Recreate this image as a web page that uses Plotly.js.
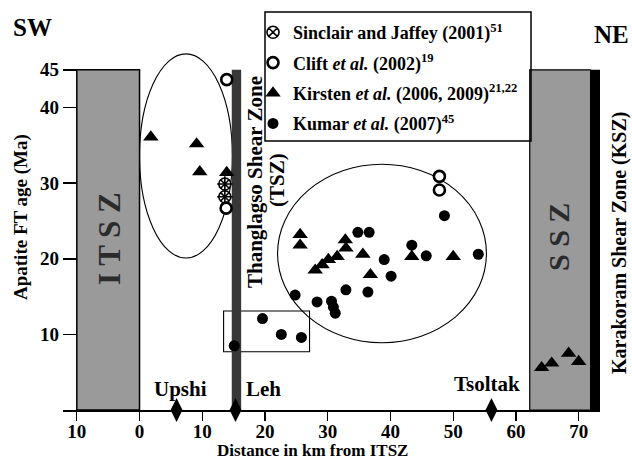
<!DOCTYPE html>
<html>
<head>
<meta charset="utf-8">
<script src="https://cdn.plot.ly/plotly-3.0.1.min.js"></script>
<style>html,body{margin:0;padding:0;background:#fff;}#chart{width:632px;height:461px;}</style>
</head>
<body>
<div id="chart"></div>
<script>
// ---- data ----
const sinclairKm  = [13.6, 13.6];
const sinclairAge = [29.9, 28.2];

const cliftKm  = [13.9, 13.8, 47.8, 47.8];
const cliftAge = [43.7, 26.7, 30.9, 29.1];

const kirstenKm  = [1.8, 9.1, 9.6, 13.9, 25.6, 25.6, 32.8, 32.9, 31.5, 30.1, 29.1, 28.0, 35.6, 36.8, 43.4, 50.0, 64.1, 65.7, 68.4, 70.0];
const kirstenAge = [36.1, 35.2, 31.5, 31.4, 23.2, 21.8, 22.5, 21.4, 20.3, 19.9, 19.2, 18.5, 20.6, 17.9, 20.3, 20.3, 5.6, 6.2, 7.5, 6.4];

const kumarKm  = [34.8, 36.6, 39.0, 40.1, 32.9, 36.4, 24.8, 28.3, 30.6, 30.9, 31.2, 43.4, 45.7, 48.6, 54.0, 19.6, 22.6, 25.8, 15.1];
const kumarAge = [23.5, 23.5, 19.9, 17.7, 15.9, 15.6, 15.2, 14.3, 14.4, 13.6, 12.8, 21.8, 20.4, 25.7, 20.6, 12.1, 10.0, 9.6, 8.5];

const towns   = ['Upshi', 'Leh', 'Tsoltak'];
const townKm  = [5.9, 15.3, 56.1];

const xTickVals = [-10, 0, 10, 20, 30, 40, 50, 60, 70];
const xTickText = ['10', '0', '10', '20', '30', '40', '50', '60', '70'];
const yTickVals = [10, 20, 30, 40, 45];

const seriesNames = [
  'Sinclair and Jaffey (2001)<sup>51</sup>',
  'Clift <i>et al.</i> (2002)<sup>19</sup>',
  'Kirsten <i>et al.</i> (2006, 2009)<sup>21,22</sup>',
  'Kumar <i>et al.</i> (2007)<sup>45</sup>'
];

// zone boundaries (km) and ellipse extents
const itsz = [-10, 0];
const tsz  = [14.7, 16.2];
const ssz  = [62.2, 71.9];
const ksz  = [71.9, 73.4];
const topAge = 45;

// ---- layout geometry ----
const W = 632, H = 461;
const mL = 63, mR = 32, mT = 32, mB = 51;
const xmin = -12.2, xmax = 73.4;
const pw = W - mL - mR, ph = H - mT - mB;
const px2x = p => (p - mL) / pw;
const py2y = p => (H - mB - p) / ph;

const FONT = 'Liberation Serif, Times New Roman, serif';
const GRAY = '#9a9a9a';

const traces = [
  {x: sinclairKm, y: sinclairAge, mode: 'markers', name: seriesNames[0], legendgroup: 'a',
   marker: {symbol: 'circle-x', size: 12, color: '#fff', line: {color: '#000', width: 1.6}}},
  {x: sinclairKm, y: sinclairAge, mode: 'markers', showlegend: false, hoverinfo: 'skip', legendgroup: 'a',
   marker: {symbol: 'cross-thin-open', size: 11, color: '#000', line: {color: '#000', width: 1.6}}},
  {x: cliftKm, y: cliftAge, mode: 'markers', name: seriesNames[1], legendgroup: 'b',
   marker: {symbol: 'circle', size: 11, color: '#fff', line: {color: '#000', width: 2.6}}},
  {x: kirstenKm, y: kirstenAge, mode: 'markers', name: seriesNames[2], legendgroup: 'c',
   marker: {symbol: 'triangle-up', size: 13.5, color: '#000', line: {width: 0}}},
  {x: kumarKm, y: kumarAge, mode: 'markers', name: seriesNames[3], legendgroup: 'd',
   marker: {symbol: 'circle', size: 11, color: '#000', line: {width: 0}}},
  {x: townKm, y: townKm.map(() => 0), mode: 'markers', showlegend: false, cliponaxis: false,
   marker: {symbol: 'diamond-tall', size: 17, color: '#000', line: {width: 0}}}
];

const shapes = [
  {type: 'rect', xref: 'x', yref: 'y', x0: itsz[0], x1: itsz[1], y0: 0, y1: topAge, fillcolor: GRAY, line: {color: '#000', width: 1.5}, layer: 'below'},
  {type: 'rect', xref: 'x', yref: 'y', x0: ssz[0], x1: ssz[1], y0: 0, y1: topAge, fillcolor: GRAY, line: {color: '#000', width: 1.2}, layer: 'below'},
  {type: 'rect', xref: 'x', yref: 'y', x0: ksz[0], x1: ksz[1], y0: 0, y1: topAge, fillcolor: '#000', line: {width: 0}, layer: 'below'},
  {type: 'circle', xref: 'x', yref: 'y', x0: 0.0, x1: 14.8, y0: 20.1, y1: 47.1, line: {color: '#000', width: 1.1}, layer: 'below'},
  {type: 'circle', xref: 'x', yref: 'y', x0: 22.0, x1: 55.3, y0: 8.9, y1: 32.5, line: {color: '#000', width: 1.1}, layer: 'below'},
  {type: 'rect', xref: 'x', yref: 'y', x0: 13.4, x1: 27.1, y0: 7.7, y1: 13.1, line: {color: '#000', width: 1.1}, layer: 'below'},
  {type: 'rect', xref: 'x', yref: 'y', x0: tsz[0], x1: tsz[1], y0: 0, y1: topAge, fillcolor: '#383838', line: {width: 0}, layer: 'below'},
  // legend box
  {type: 'rect', xref: 'paper', yref: 'paper', x0: px2x(265), x1: px2x(531), y0: py2y(141), y1: py2y(12), line: {color: '#000', width: 1.5}}
];

const ann = (text, px, py, size, opts) => Object.assign({
  text, xref: 'paper', yref: 'paper', x: px2x(px), y: py2y(py), xanchor: 'center', yanchor: 'middle',
  showarrow: false, font: {family: FONT, size, color: '#000', weight: 'bold'}
}, opts || {});

const annotations = [
  ann('SW', 32, 28, 25),
  ann('NE', 611, 35, 25),
  ann('Apatite FT age (Ma)', 21, 217, 19, {textangle: -90}),
  ann('Distance in km from ITSZ', 312, 450, 17),
  ann('I T S Z', 109, 239, 31, {textangle: -90, font: {family: FONT, size: 31, color: '#2b2b2b', weight: 'bold'}}),
  ann('S S Z', 558, 237, 30, {textangle: -90, font: {family: FONT, size: 30, color: '#2b2b2b', weight: 'bold'}}),
  ann('Thanglagso Shear Zone', 255, 182, 21, {textangle: -90}),
  ann('(TSZ)', 277, 180, 21, {textangle: -90}),
  ann('Karakoram Shear Zone (KSZ)', 620, 243, 20, {textangle: -90}),
  ann(towns[0], 180, 389, 21),
  ann(towns[1], 263, 389, 21),
  ann(towns[2], 487, 384, 21)
];

const layout = {
  width: W, height: H,
  margin: {l: mL, r: mR, t: mT, b: mB, pad: 0},
  paper_bgcolor: '#fff', plot_bgcolor: 'rgba(0,0,0,0)',
  font: {family: FONT, size: 18, color: '#000', weight: 'bold'},
  showlegend: true,
  legend: {x: px2x(253), y: py2y(14), xanchor: 'left', yanchor: 'top', bgcolor: 'rgba(0,0,0,0)',
           borderwidth: 0, traceorder: 'grouped', tracegroupgap: 4, itemclick: false,
           font: {family: FONT, size: 18, color: '#000', weight: 'bold'}},
  xaxis: {range: [xmin, xmax], showgrid: false, zeroline: false, showline: true, linecolor: '#000', linewidth: 1.5,
          ticks: 'outside', ticklen: 9, tickwidth: 1.2, tickcolor: '#000', ticklabelstandoff: -5,
          tickvals: xTickVals, ticktext: xTickText,
          tickfont: {family: FONT, size: 19, color: '#000', weight: 'bold'}},
  yaxis: {range: [0, 50], showgrid: false, zeroline: false, showline: false, anchor: 'free',
          position: (itsz[0] - xmin) / (xmax - xmin),
          ticks: 'outside', ticklen: 14, tickwidth: 1.5, tickcolor: '#000',
          tickvals: yTickVals, tickfont: {family: FONT, size: 19, color: '#000', weight: 'bold'}},
  shapes, annotations
};

Plotly.newPlot('chart', traces, layout, {displayModeBar: false, staticPlot: true});
</script>
</body>
</html>
